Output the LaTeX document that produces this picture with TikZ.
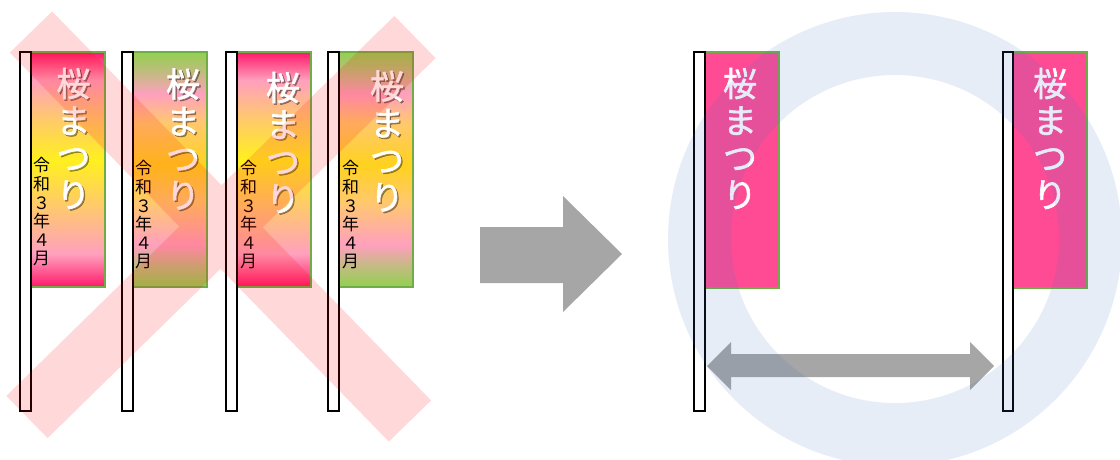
\documentclass[tikz,border=0pt]{standalone}
\usepackage{fontspec}
\newfontfamily\jpfont{Noto Sans CJK JP}
\newfontfamily\jpboldfont{Noto Sans CJK JP}[FakeBold=1.6]
\usepackage{tikz}
\usetikzlibrary{arrows}
\definecolor{flagpink}{RGB}{255,75,148}
\definecolor{flaggreen}{RGB}{112,173,71}
\definecolor{arrowgray}{RGB}{166,166,166}
\definecolor{ringblue}{RGB}{68,114,196}
\definecolor{deeppink}{RGB}{255,25,105}
\definecolor{softpink}{RGB}{255,160,190}
\definecolor{softorange}{RGB}{255,200,110}
\definecolor{brightyellow}{RGB}{255,240,30}
\definecolor{leafgreen}{RGB}{146,208,80}
\definecolor{warmyellow}{RGB}{255,210,30}
\pgfdeclareverticalshading{pinkflag}{100bp}{color(0bp)=(deeppink); color(25bp)=(deeppink);
  color(32bp)=(softpink); color(42bp)=(softorange); color(52bp)=(brightyellow);
  color(61bp)=(softorange); color(69bp)=(softpink); color(75bp)=(deeppink); color(100bp)=(deeppink)}
\pgfdeclareverticalshading{greenflag}{100bp}{color(0bp)=(leafgreen); color(25bp)=(leafgreen);
  color(29bp)=(leafgreen!60!softpink); color(34bp)=(softpink); color(43bp)=(softorange);
  color(51bp)=(warmyellow); color(60bp)=(softorange); color(66bp)=(softpink);
  color(71bp)=(leafgreen!60!softpink); color(75bp)=(leafgreen); color(100bp)=(leafgreen)}

\begin{document}
\begin{tikzpicture}[x=1pt,y=-1pt,
  pole/.style={draw=black,fill=white,line width=1.6pt},
  flag/.style={draw=flaggreen,line width=1.4pt},
  bigtext/.style={font=\jpboldfont\fontsize{34}{37}\selectfont,align=center,text=white,inner sep=0pt},
  glowtext/.style={bigtext,text=black,text opacity=0.35},
  datetext/.style={font=\jpfont\fontsize{17}{18.6}\selectfont,align=center,text=black,inner sep=0pt},
  xband/.style={draw=red,draw opacity=0.15,line width=59pt},
  blockarrow/.style={fill=arrowgray,draw=none},
  ring/.style={fill=ringblue,fill opacity=0.13,even odd rule}]
\useasboundingbox (0,0) rectangle (1120,459);

% banners that are too close
\shadedraw[flag,shading=pinkflag] (31,52) rectangle (105,287);
\shadedraw[flag,shading=greenflag] (133,52) rectangle (207,287);
\shadedraw[flag,shading=pinkflag] (237,52) rectangle (311,287);
\shadedraw[flag,shading=greenflag] (339,52) rectangle (413,287);
\node[glowtext] (glowa) at (75,140) {桜\\ま\\つ\\り};
\node[glowtext] (glowb) at (184.5,140.5) {桜\\ま\\つ\\り};
\node[glowtext] (glowc) at (284.5,144) {桜\\ま\\つ\\り};
\node[glowtext] (glowd) at (388.5,142.5) {桜\\ま\\つ\\り};
\node[bigtext] (namea) at (73.5,138.5) {桜\\ま\\つ\\り};
\node[bigtext] (nameb) at (183,139) {桜\\ま\\つ\\り};
\node[bigtext] (namec) at (283,142.5) {桜\\ま\\つ\\り};
\node[bigtext] (named) at (387,141) {桜\\ま\\つ\\り};
\node[datetext] (datea) at (41.5,212) {令\\和\\３\\年\\４\\月};
\node[datetext] (dateb) at (143.5,215) {令\\和\\３\\年\\４\\月};
\node[datetext] (datec) at (248.5,215) {令\\和\\３\\年\\４\\月};
\node[datetext] (dated) at (350.5,215) {令\\和\\３\\年\\４\\月};
\draw[pole] (20,52) rectangle (31,411);
\draw[pole] (122,52) rectangle (133,411);
\draw[pole] (226,52) rectangle (237,411);
\draw[pole] (328,52) rectangle (339,411);
\draw[xband] (31,32) -- (410,421) (415,37) -- (27,417);

% arrow
\fill[blockarrow] (480,227) -- (563,227) -- (563,196) -- (622,254) -- (563,312) -- (563,283) -- (480,283) -- cycle;

% banners with room between them
\draw[flag,fill=flagpink] (705,52) rectangle (779,288);
\draw[flag,fill=flagpink] (1013,52) rectangle (1087,288);
\node[bigtext] (namee) at (740,138.5) {桜\\ま\\つ\\り};
\node[bigtext] (namef) at (1050,138.5) {桜\\ま\\つ\\り};
\draw[pole] (694,52) rectangle (705,411);
\draw[pole] (1003,52) rectangle (1013,411);
\fill[blockarrow] (707,366) -- (731,342) -- (731,354) -- (970,354) -- (970,342) -- (994,366)
  -- (970,390) -- (970,377) -- (731,377) -- (731,390) -- cycle;
\begin{scope}
\clip (0,0) rectangle (1120,459);
\fill[ring] (895,239) circle[radius=227pt] (895,239) circle[radius=164pt];
\end{scope}
\end{tikzpicture}
\end{document}
